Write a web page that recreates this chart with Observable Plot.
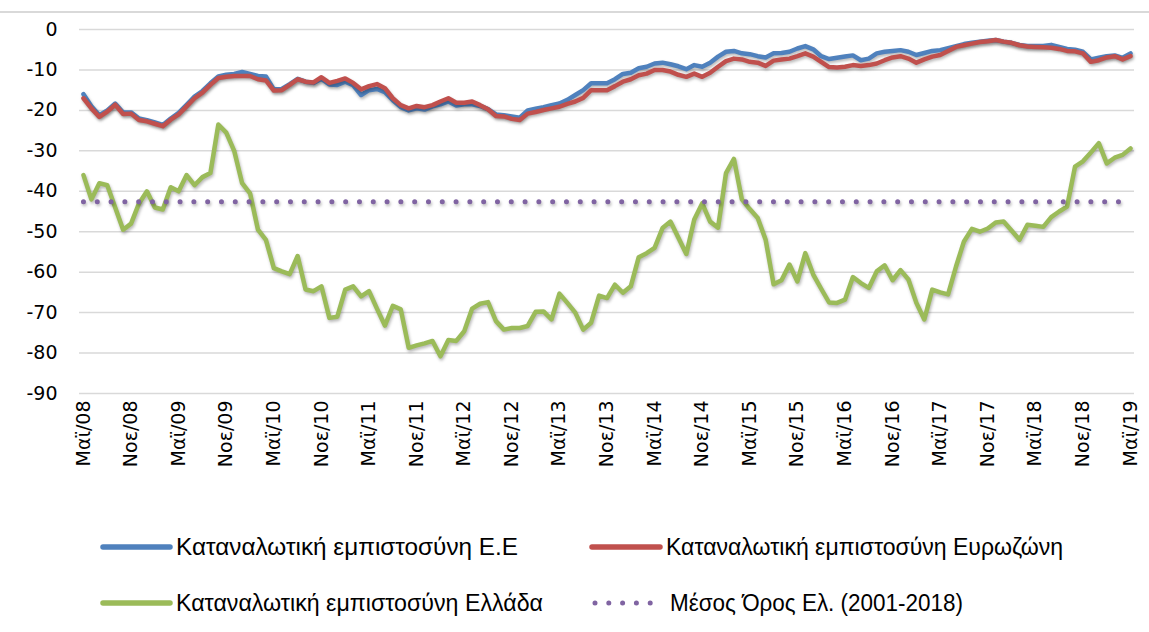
<!DOCTYPE html>
<html><head><meta charset="utf-8">
<script src="https://cdn.jsdelivr.net/npm/d3@7"></script>
<script src="https://cdn.jsdelivr.net/npm/@observablehq/plot@0.6"></script>
<style>
body{margin:0;background:#fff;}
#wrap{position:relative;width:1149px;height:632px;overflow:hidden;background:#fff;}
#chart{position:absolute;left:0;top:0;}
#legend{position:absolute;left:0;top:500px;}
#topline{position:absolute;left:0;top:11px;width:1149px;height:0;border-top:2px solid #d9d9d9;z-index:5;}
</style></head><body>
<div id="wrap"><div id="chart"></div><div id="legend"></div><div id="topline"></div></div>
<script>
// Tick labels every 6 months (May 2008 .. May 2019)
const xTickLabels = ["Μαϊ/08","Νοε/08","Μαϊ/09","Νοε/09","Μαϊ/10","Νοε/10","Μαϊ/11","Νοε/11","Μαϊ/12","Νοε/12","Μαϊ/13","Νοε/13","Μαϊ/14","Νοε/14","Μαϊ/15","Νοε/15","Μαϊ/16","Νοε/16","Μαϊ/17","Νοε/17","Μαϊ/18","Νοε/18","Μαϊ/19"];
const yTicks = [0,-10,-20,-30,-40,-50,-60,-70,-80,-90];

// Monthly values, May 2008 .. May 2019
const euValues = [-16,-19,-21.2,-20,-18.3,-20.5,-20.5,-22,-22.4,-23,-23.6,-22,-20.6,-18.6,-16.6,-15.2,-13.3,-11.6,-11.2,-11,
-10.5,-11,-11.5,-11.6,-14.8,-14.7,-13.5,-12.2,-12.9,-13.2,-12.2,-13.6,-13.7,-12.9,-13.8,-16.2,-15,-14.7,-15.5,-17.5,
-19.2,-20,-19.5,-19.8,-19,-18.5,-17.8,-18.8,-18.5,-18.5,-18.9,-19.7,-21,-21.2,-21.5,-21.8,-20,-19.6,-19.2,-18.7,
-18.3,-17.4,-16.2,-15,-13.3,-13.3,-13.3,-12.3,-11,-10.7,-9.6,-9.2,-8.4,-8.2,-8.6,-9.1,-9.8,-8.8,-9.2,-8.2,
-6.7,-5.5,-5.3,-5.9,-6.1,-6.6,-6.9,-5.9,-5.8,-5.5,-4.7,-4.1,-4.9,-6.6,-7.3,-7,-6.7,-6.4,-7.6,-7.2,
-5.9,-5.5,-5.3,-5.1,-5.5,-6.3,-5.8,-5.3,-5.1,-4.6,-4.1,-3.6,-3.3,-3,-2.8,-2.6,-3,-3.3,-3.8,-4.1,
-4.1,-4.1,-3.8,-4.3,-4.8,-5,-5.5,-7.4,-7,-6.6,-6.4,-7,-5.9];
const ezValues = [-17,-19.5,-21.6,-20.3,-18.6,-20.9,-20.8,-22.4,-22.7,-23.3,-23.9,-22.3,-21,-19,-17,-15.6,-13.7,-12,-11.7,-11.5,
-11.5,-11.5,-12.3,-12.6,-15.1,-15,-13.7,-12.3,-12.9,-13.1,-11.8,-13.2,-12.7,-12.1,-13.2,-14.8,-14,-13.5,-14.5,-17,
-18.7,-19.5,-18.9,-19.2,-18.7,-17.8,-17,-18.1,-18.1,-17.8,-18.7,-19.7,-21.4,-21.5,-22.1,-22.4,-20.8,-20.4,-19.9,-19.5,
-19.1,-18.4,-17.8,-16.9,-15,-15,-15,-14,-12.9,-12.3,-11.3,-10.9,-10,-10,-10.4,-11.2,-11.7,-10.9,-11.7,-10.7,
-9.2,-7.8,-7.2,-7.4,-8,-8.2,-9,-7.7,-7.4,-7.2,-6.6,-5.9,-6.7,-8,-9.3,-9.4,-9.2,-8.8,-9,-8.8,
-8.4,-7.6,-6.9,-6.6,-7.2,-8.2,-7.4,-6.7,-6.3,-5.3,-4.3,-3.9,-3.5,-3.1,-2.9,-2.6,-3,-3.3,-3.9,-4.2,
-4.3,-4.4,-4.5,-4.8,-5.3,-5.4,-5.9,-8,-7.6,-6.9,-6.6,-7.4,-6.6];
const grValues = [-36,-42,-38,-38.5,-44,-49.5,-48,-43,-40,-44,-44.5,-39,-40,-36,-38.5,-36.5,-35.5,-23.5,-25.5,-30,
-38,-40.5,-49.5,-52,-59,-59.8,-60.5,-56,-64.3,-64.7,-63.5,-71.3,-71,-64.3,-63.5,-66,-64.7,-69,-73.2,-68.3,
-69.2,-78.7,-78.1,-77.6,-77,-80.8,-76.8,-77,-74.6,-69,-67.8,-67.4,-72.1,-74.2,-73.8,-73.8,-73.3,-69.8,-69.7,-71.7,
-65.3,-67.6,-70,-74.2,-72.5,-65.8,-66.4,-63.1,-65.1,-63.5,-56.3,-55.3,-54,-49.1,-47.5,-51.5,-55.5,-47,-43,-47.5,
-49,-35.5,-32,-42,-44.4,-46.6,-52,-63,-62,-58.1,-62.3,-55.3,-60.6,-64.1,-67.5,-67.6,-66.8,-61.2,-62.7,-63.9,
-59.8,-58.3,-62,-59.5,-61.8,-67.6,-71.7,-64.3,-65,-65.5,-58.6,-52.4,-49.3,-50,-49.2,-47.7,-47.5,-49.7,-52,-48.3,
-48.5,-48.8,-46.4,-45,-43.8,-33.9,-32.6,-30.4,-28.1,-33.1,-31.7,-31,-29.4];
const greeceMean = -42.6;   // Μέσος Όρος Ελ. (2001-2018)
const meanLastIndex = 131;

const seriesNames = ["Καταναλωτική εμπιστοσύνη Ε.Ε","Καταναλωτική εμπιστοσύνη Ευρωζώνη","Καταναλωτική εμπιστοσύνη Ελλάδα","Μέσος Όρος Ελ. (2001-2018)"];
const colors = ["#4F81BD","#C0504D","#9BBB59","#8064A2"];

const n = grValues.length;
const toRows = vals => vals.map((v, i) => ({i, v}));
const meanRows = d3.range(0, meanLastIndex + 1).map(i => ({i, v: greeceMean}));
const xTickIdx = xTickLabels.map((_, k) => k * 6);

const plot = Plot.plot({
  width: 1149, height: 500,
  marginLeft: 79, marginRight: 15, marginTop: 29, marginBottom: 107,
  style: {fontFamily: "DejaVu Sans, sans-serif", fontSize: "18px", color: "#000", background: "transparent"},
  x: {type: "linear", domain: [-0.5, n - 0.5], axis: null, label: null},
  y: {domain: [-90, 0], axis: null, label: null},
  marks: [
    Plot.ruleY(yTicks, {stroke: "#d9d9d9", strokeWidth: 1.5}),
    Plot.axisY(yTicks, {tickSize: 0, tickPadding: 22, tickFormat: d => String(d), fontSize: 19, label: null}),
    Plot.axisX(xTickIdx, {tickSize: 0, tickRotate: -90, tickPadding: 7, tickFormat: d => xTickLabels[d / 6], fontSize: 19, label: null}),
    Plot.line(toRows(euValues), {x: "i", y: "v", stroke: colors[0], strokeWidth: 4.5, strokeLinejoin: "round"}),
    Plot.line(toRows(ezValues), {x: "i", y: "v", stroke: colors[1], strokeWidth: 4.5, strokeLinejoin: "round"}),
    Plot.line(toRows(grValues), {x: "i", y: "v", stroke: colors[2], strokeWidth: 4.5, strokeLinejoin: "round"}),
    Plot.line(meanRows, {x: "i", y: "v", stroke: colors[3], strokeWidth: 5, strokeDasharray: "0 13.8", strokeLinecap: "round"})
  ]
});
plot.querySelectorAll('g[aria-label="line"]').forEach(g => {
  g.style.filter = "drop-shadow(1px 2px 1.5px rgba(0,0,0,0.28))";
});
document.getElementById("chart").appendChild(plot);

// Legend
const legend = d3.select("#legend").append("svg").attr("width", 1149).attr("height", 132)
  .style("font-family", "'Liberation Sans Narrow', 'Liberation Sans', sans-serif");
const items = [
  {x0: 103, x1: 170, y: 47, tx: 176, tl: 342, k: 0},
  {x0: 592, x1: 660, y: 47, tx: 666, tl: 397, k: 1},
  {x0: 103, x1: 170, y: 103, tx: 176, tl: 367, k: 2},
  {x0: 595, x1: 651, y: 103, tx: 670, tl: 293, k: 3}
];
items.forEach(it => {
  const ln = legend.append("line").attr("x1", it.x0).attr("x2", it.x1).attr("y1", it.y).attr("y2", it.y)
    .attr("stroke", colors[it.k]).attr("stroke-linecap", "round");
  if (it.k === 3) ln.attr("stroke-width", 5).attr("stroke-dasharray", "0 13.8");
  else ln.attr("stroke-width", 5.5);
  legend.append("text").attr("x", it.tx).attr("y", it.y).attr("dy", "0.35em")
    .attr("font-size", 23).attr("fill", "#000")
    .attr("textLength", it.tl).attr("lengthAdjust", "spacingAndGlyphs")
    .text(seriesNames[it.k]);
});
</script>
</body></html>
